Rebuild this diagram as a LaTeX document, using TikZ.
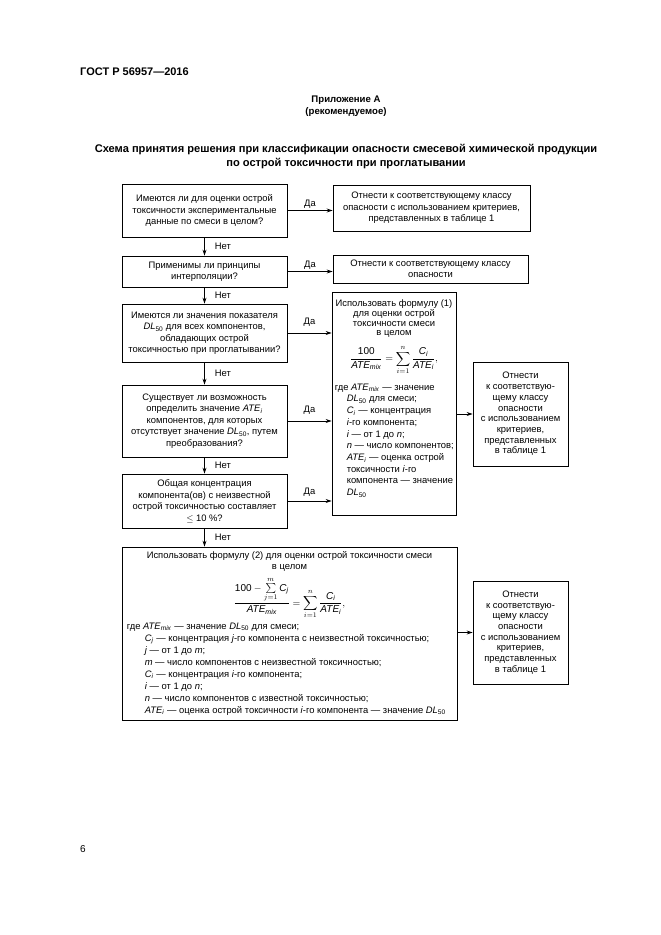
\documentclass[tikz,border=0pt]{standalone}
\usepackage{amsmath}
\usepackage{fontspec}
\setmainfont{Liberation Sans}
\usetikzlibrary{arrows.meta,positioning}

\newcommand{\boxfont}{\fontsize{9.4}{11.5}\selectfont}
\newcommand{\DLf}{\textit{DL}\textsubscript{50}}
\newcommand{\ATEm}{\textit{ATE}\textsubscript{\textit{mix}}}
\newcommand{\ATEi}{\textit{ATE}\textsubscript{\textit{i}}}
\newcommand{\mv}[1]{\text{\itshape #1}}

\tikzset{
  stepbox/.style={draw, line width=0.8pt, inner sep=2pt, align=center, font=\boxfont},
  txt/.style={inner sep=0pt, font=\boxfont},
  eqn/.style={inner sep=0pt, font=\fontsize{10}{12}\selectfont},
  arr/.style={-{Stealth[length=6pt,width=4pt]}, line width=0.8pt},
  lbl/.style={font=\boxfont, inner sep=2pt},
}

\begin{document}
\begin{tikzpicture}[x=1pt, y=-1pt]
\useasboundingbox[fill=white] (0,0) rectangle (661,935);

% header
\node[anchor=base west, inner sep=0, font=\fontsize{11}{13}\selectfont\bfseries] (gost) at (80,75) {ГОСТ Р 56957—2016};
\node[anchor=base, inner sep=0, font=\fontsize{9.6}{12}\selectfont\bfseries] (annex) at (346,102) {Приложение А};
\node[anchor=base, inner sep=0, font=\fontsize{9.6}{12}\selectfont\bfseries] (annexnote) at (346,114) {(рекомендуемое)};
\node[anchor=base, inner sep=0, font=\fontsize{11.1}{13}\selectfont\bfseries] (title1) at (346,152) {Схема принятия решения при классификации опасности смесевой химической продукции};
\node[anchor=base, inner sep=0, font=\fontsize{11.1}{13}\selectfont\bfseries] (title2) at (346,166) {по острой токсичности при проглатывании};

% left column
\node[stepbox, minimum width=165, minimum height=53] (q1) at (204.5,210.5) {Имеются ли для оценки острой\\токсичности экспериментальные\\данные по смеси в целом?};
\node[stepbox, minimum width=165, minimum height=31] (q2) at (204.5,271.5) {Применимы ли принципы\\интерполяции?};
\node[stepbox, minimum width=165, minimum height=58] (q3) at (204.5,333) {Имеются ли значения показателя\\\DLf{} для всех компонентов,\\обладающих острой\\токсичностью при проглатывании?};
\node[stepbox, minimum width=165, minimum height=72] (q4) at (204.5,421) {Существует ли возможность\\определить значение \ATEi\\компонентов, для которых\\отсутствует значение \DLf, путем\\преобразования?};
\node[stepbox, minimum width=165, minimum height=54] (q5) at (204.5,501) {Общая концентрация\\компонента(ов) с неизвестной\\острой токсичностью составляет\\$\leq$ 10 \%?};

% right column
\node[stepbox, minimum width=197, minimum height=46] (a1) at (431.5,208) {Отнести к соответствующему классу\\опасности с использованием критериев,\\представленных в таблице 1};
\node[stepbox, minimum width=195, minimum height=28] (a2) at (430.5,269) {Отнести к соответствующему классу\\опасности};
\node[stepbox, minimum width=124, minimum height=223] (f1) at (394,403.5) {};
\node[stepbox, minimum width=95, minimum height=104, font=\fontsize{9.4}{10.7}\selectfont] (a3) at (520.5,414) {Отнести\\к соответствую-\\щему классу\\опасности\\с использованием\\критериев,\\представленных\\в таблице 1};
\node[stepbox, minimum width=335, minimum height=173] (f2) at (289.5,633.5) {};
\node[stepbox, minimum width=95, minimum height=103, font=\fontsize{9.4}{10.7}\selectfont] (a4) at (520.5,632.5) {Отнести\\к соответствую-\\щему классу\\опасности\\с использованием\\критериев,\\представленных\\в таблице 1};

% formula (1)
\node[txt, anchor=north, align=center, font=\fontsize{9.4}{9.7}\selectfont] (f1head) at ([shift={(0,8)}]f1.north) {Использовать формулу (1)\\для оценки острой\\токсичности смеси\\в целом};
\node[eqn, below=7pt of f1head] (f1eq) {$\displaystyle\frac{\text{100}}{\mv{ATE}_{\mv{mix}}}=\sum_{i=1}^{n}\frac{\mv{C}_{\mv{i}}}{\mv{ATE}_{\mv{i}}},$};
\node[txt, anchor=north west, align=left, font=\fontsize{9.4}{11.7}\selectfont] (f1vars) at ([shift={(3,92)}]f1.north west) {где \ATEm{} — значение\\
\hspace*{12pt}\DLf{} для смеси;\\
\hspace*{12pt}\textit{C}\textsubscript{\textit{i}} — концентрация\\
\hspace*{12pt}\textit{i}-го компонента;\\
\hspace*{12pt}\textit{i} — от 1 до \textit{n};\\
\hspace*{12pt}\textit{n} — число компонентов;\\
\hspace*{12pt}\ATEi{} — оценка острой\\
\hspace*{12pt}токсичности \textit{i}-го\\
\hspace*{12pt}компонента — значение\\
\hspace*{12pt}\DLf};

% formula (2)
\node[txt, anchor=north, align=center, font=\fontsize{9.4}{10.5}\selectfont] (f2head) at ([shift={(0,5)}]f2.north) {Использовать формулу (2) для оценки острой токсичности смеси\\в целом};
\node[eqn, below=6pt of f2head] (f2eq) {$\displaystyle\frac{\text{100}-\sum\limits_{j=1}^{m}\mv{C}_{\mv{j}}}{\mv{ATE}_{\mv{mix}}}=\sum_{i=1}^{n}\frac{\mv{C}_{\mv{i}}}{\mv{ATE}_{\mv{i}}},$};
\node[txt, anchor=north west, align=left, font=\fontsize{9.4}{12}\selectfont] (f2vars) at ([shift={(5,76)}]f2.north west) {где \ATEm{} — значение \DLf{} для смеси;\\
\hspace*{18pt}\textit{C}\textsubscript{\textit{j}} — концентрация \textit{j}-го компонента с неизвестной токсичностью;\\
\hspace*{18pt}\textit{j} — от 1 до \textit{m};\\
\hspace*{18pt}\textit{m} — число компонентов с неизвестной токсичностью;\\
\hspace*{18pt}\textit{C}\textsubscript{\textit{i}} — концентрация \textit{i}-го компонента;\\
\hspace*{18pt}\textit{i} — от 1 до \textit{n};\\
\hspace*{18pt}\textit{n} — число компонентов с известной токсичностью;\\
\hspace*{18pt}\ATEi{} — оценка острой токсичности \textit{i}-го компонента — значение \DLf};

% connectors
\draw[arr] (q1) -- (q2) node[lbl, midway, right, xshift=8pt] {Нет};
\draw[arr] (q2) -- (q3) node[lbl, midway, right, xshift=8pt] {Нет};
\draw[arr] (q3) -- (q4) node[lbl, midway, right, xshift=8pt] {Нет};
\draw[arr] (q4) -- (q5) node[lbl, midway, right, xshift=8pt] {Нет};
\draw[arr] (q5.south) -- (q5.south |- f2.north) node[lbl, midway, right, xshift=8pt] {Нет};
\draw[arr, line width=1.2pt] (q1.east) -- (q1.east -| a1.west) node[lbl, midway, above] {Да};
\draw[arr] (q2.east) -- (q2.east -| a2.west) node[lbl, midway, above] {Да};
\draw[arr] (q3.east) -- (q3.east -| f1.west) node[lbl, midway, above, yshift=4pt] {Да};
\draw[arr] (q4.east) -- (q4.east -| f1.west) node[lbl, midway, above, yshift=4pt] {Да};
\draw[arr] (q5.east) -- (q5.east -| f1.west) node[lbl, midway, above, yshift=2pt] {Да};
\draw[arr] (a3.west -| f1.east) -- (a3.west);
\draw[arr] (f2.east |- a4.west) -- (a4.west);

\node[anchor=base west, inner sep=0, font=\fontsize{10}{12}\selectfont] (pagenum) at (80,852) {6};
\end{tikzpicture}
\end{document}
